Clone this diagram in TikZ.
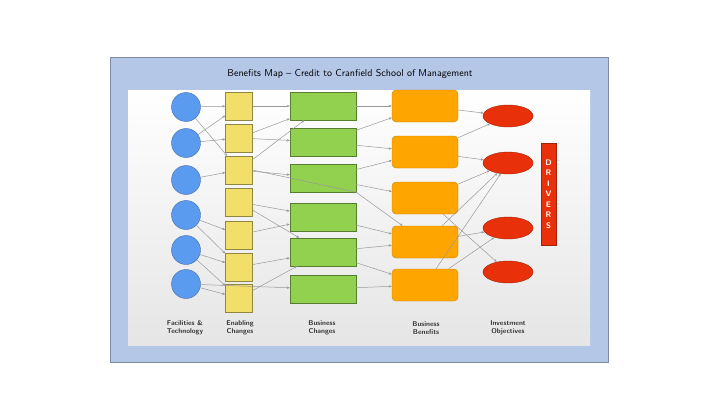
\documentclass[tikz,border=0pt]{standalone}
\usetikzlibrary{shapes.geometric,arrows.meta}
\definecolor{framefill}{HTML}{B4C7E7}
\definecolor{facfill}{HTML}{5B9BEF}
\definecolor{enafill}{HTML}{F2DF6A}
\definecolor{chgfill}{HTML}{92D050}
\definecolor{benfill}{HTML}{FFA500}
\definecolor{objfill}{HTML}{E8300A}
\begin{document}
\begin{tikzpicture}[x=1pt, y=-1pt, >={Stealth[length=3pt,width=2.5pt]}]
    \tikzset{%
    every facility/.style={circle, draw=facfill!70!black, fill=facfill, minimum width=29pt, minimum height=28pt, inner sep=0pt},
    every enabler/.style={draw=enafill!60!black, fill=enafill, minimum width=27pt, minimum height=28pt, inner sep=0pt},
    every change/.style={draw=chgfill!60!black, fill=chgfill, minimum width=66pt, minimum height=28pt, inner sep=0pt},
    every benefit/.style={draw=benfill!80!black, fill=benfill, rounded corners=4pt, minimum width=66pt, minimum height=32pt, inner sep=0pt},
    every objective/.style={ellipse, draw=objfill!70!black, fill=objfill, minimum width=50pt, minimum height=22pt, inner sep=0pt},
    link/.style={->, draw=gray!80, line width=0.5pt},
    caption/.style={font=\sffamily\bfseries\scriptsize, align=center, text=black!80},
    }
    \useasboundingbox (0,0) rectangle (720,404);
    % Frame and panel
    \node [draw=framefill!70!black, fill=framefill, minimum width=498pt, minimum height=305pt, anchor=north west] (frame) at (110,57) {};
    \shade [top color=white, bottom color=gray!20] (128,90) rectangle (590,345);
    \node [font=\sffamily] (title) at (350,74) {Benefits Map -- Credit to Cranfield School of Management};
    % Facilities & technology
    \foreach \y [count=\i] in {107,143,180,215,250,284}
    \node [every facility/.try] (fac-\i) at (186,\y) {};
    % Enabling changes
    \foreach \y [count=\i] in {106,138,170,202,235,267,298}
    \node [every enabler/.try] (ena-\i) at (239,\y) {};
    % Business changes
    \foreach \y [count=\i] in {106,142,178,217,252,289}
    \node [every change/.try] (chg-\i) at (323,\y) {};
    % Business benefits
    \foreach \y [count=\i] in {106,152,198,242,285}
    \node [every benefit/.try] (ben-\i) at (425,\y) {};
    % Investment objectives
    \foreach \y [count=\i] in {116,163,228,272}
    \node [every objective/.try] (obj-\i) at (508,\y) {};
    % Drivers
    \node [fill=objfill, draw=objfill!70!black, minimum width=15pt, minimum height=102pt, inner sep=0pt, text=white, font=\sffamily\bfseries\footnotesize, align=center] (drivers) at (548.5,194) {D\\[1pt]R\\[1pt]I\\[1pt]V\\[1pt]E\\[1pt]R\\[1pt]S};
    % Links
    \foreach \a/\b in {1/1,1/3,2/1,2/2,3/3,4/5,4/6,5/6,5/7,6/7}
    \draw [link] (fac-\a) -- (ena-\b);
    \draw [link] (fac-6) -- (chg-6);
    \foreach \a/\b in {1/1,2/1,2/2,3/1,3/3,4/4,4/5,5/4,6/5,7/5}
    \draw [link] (ena-\a) -- (chg-\b);
    \draw [link] (ena-3.east) -- (chg-3.south east) -- (ben-4);
    \foreach \a/\b in {1/1,2/1,2/2,3/2,3/3,4/4,5/4,5/5,6/5}
    \draw [link] (chg-\a) -- (ben-\b);
    \foreach \a/\b in {1/1,2/1,2/2,3/2,3/4,4/2,4/3,5/2,5/3}
    \draw [link] (ben-\a) -- (obj-\b);
    % Column labels
    \node [caption] (lab-fac) at (185,328) {Facilities \&\\Technology};
    \node [caption] (lab-ena) at (240,328) {Enabling\\Changes};
    \node [caption] (lab-chg) at (322,328) {Business\\Changes};
    \node [caption] (lab-ben) at (426,328) {Business\\Benefits};
    \node [caption] (lab-obj) at (508,328) {Investment\\Objectives};
\end{tikzpicture}
\end{document}
